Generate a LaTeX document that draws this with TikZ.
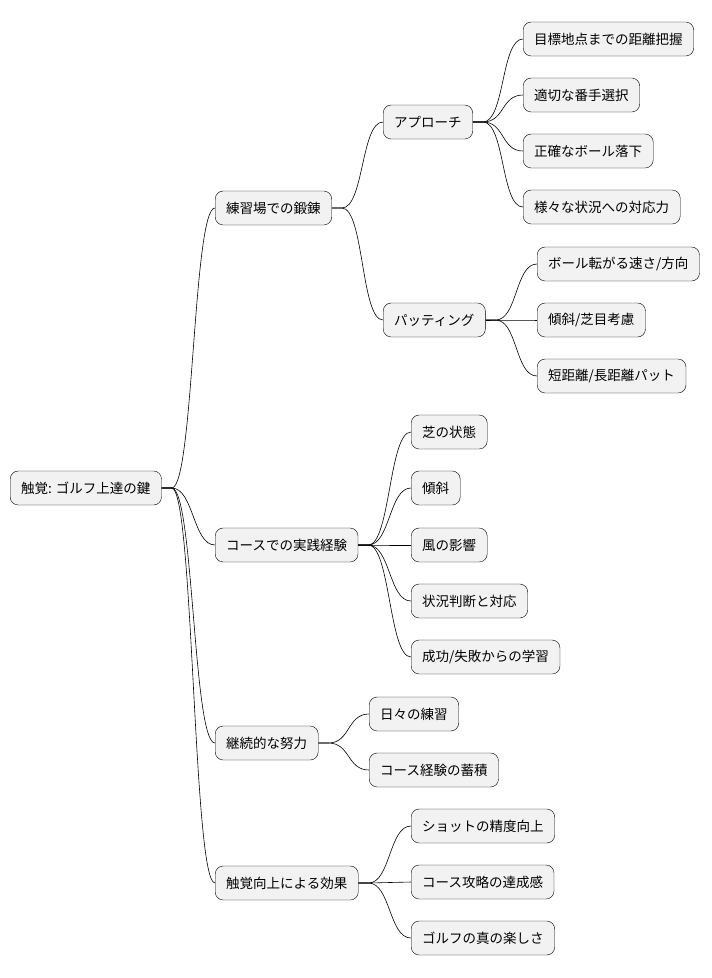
\documentclass[tikz,border=0pt]{standalone}
\usepackage{fontspec}
\setmainfont{Noto Sans CJK JP}
\usetikzlibrary{positioning}
\colorlet{boxfill}{black!5}
\tikzset{
  topic/.style={draw=black,fill=boxfill,rounded corners=8pt,anchor=west,
    minimum height=34pt,inner xsep=11pt,inner ysep=0pt,
    font=\fontsize{13.5}{15}\selectfont},
  branch/.style={draw=black,line width=0.6pt}
}
\begin{document}
\begin{tikzpicture}[x=1pt,y=-1pt]
\useasboundingbox (0,0) rectangle (712,978);
% root
\node[topic] (root) at (10,488) {触覚: ゴルフ上達の鍵};
% first level
\node[topic] (drill) at (215,208) {練習場での鍛錬};
\node[topic] (course) at (215,545) {コースでの実践経験};
\node[topic] (effort) at (215,743) {継続的な努力};
\node[topic] (effect) at (215,883) {触覚向上による効果};
% second level
\node[topic] (appr) at (383,122) {アプローチ};
\node[topic] (putt) at (383,320) {パッティング};
\node[topic] (a1) at (523,39) {目標地点までの距離把握};
\node[topic] (a2) at (523,95) {適切な番手選択};
\node[topic] (a3) at (523,151) {正確なボール落下};
\node[topic] (a4) at (523,207) {様々な状況への対応力};
\node[topic] (p1) at (537,264) {ボール転がる速さ/方向};
\node[topic] (p2) at (537,320) {傾斜/芝目考慮};
\node[topic] (p3) at (537,376) {短距離/長距離パット};
\node[topic] (c1) at (411,432) {芝の状態};
\node[topic] (c2) at (411,488) {傾斜};
\node[topic] (c3) at (411,545) {風の影響};
\node[topic] (c4) at (411,601) {状況判断と対応};
\node[topic] (c5) at (411,657) {成功/失敗からの学習};
\node[topic] (e1) at (369,714) {日々の練習};
\node[topic] (e2) at (369,770) {コース経験の蓄積};
\node[topic] (f1) at (411,826) {ショットの精度向上};
\node[topic] (f2) at (411,882) {コース攻略の達成感};
\node[topic] (f3) at (411,938) {ゴルフの真の楽しさ};
% connectors
\foreach \from/\to in {root/drill,root/course,root/effort,root/effect,
  drill/appr,drill/putt,appr/a1,appr/a2,appr/a3,appr/a4,
  putt/p1,putt/p2,putt/p3,course/c1,course/c2,course/c3,course/c4,course/c5,
  effort/e1,effort/e2,effect/f1,effect/f2,effect/f3}
  \draw[branch] (\from.east) -- ++(10,0) .. controls +(22,0) and +(-22,0) .. (\to.west);
\end{tikzpicture}
\end{document}
